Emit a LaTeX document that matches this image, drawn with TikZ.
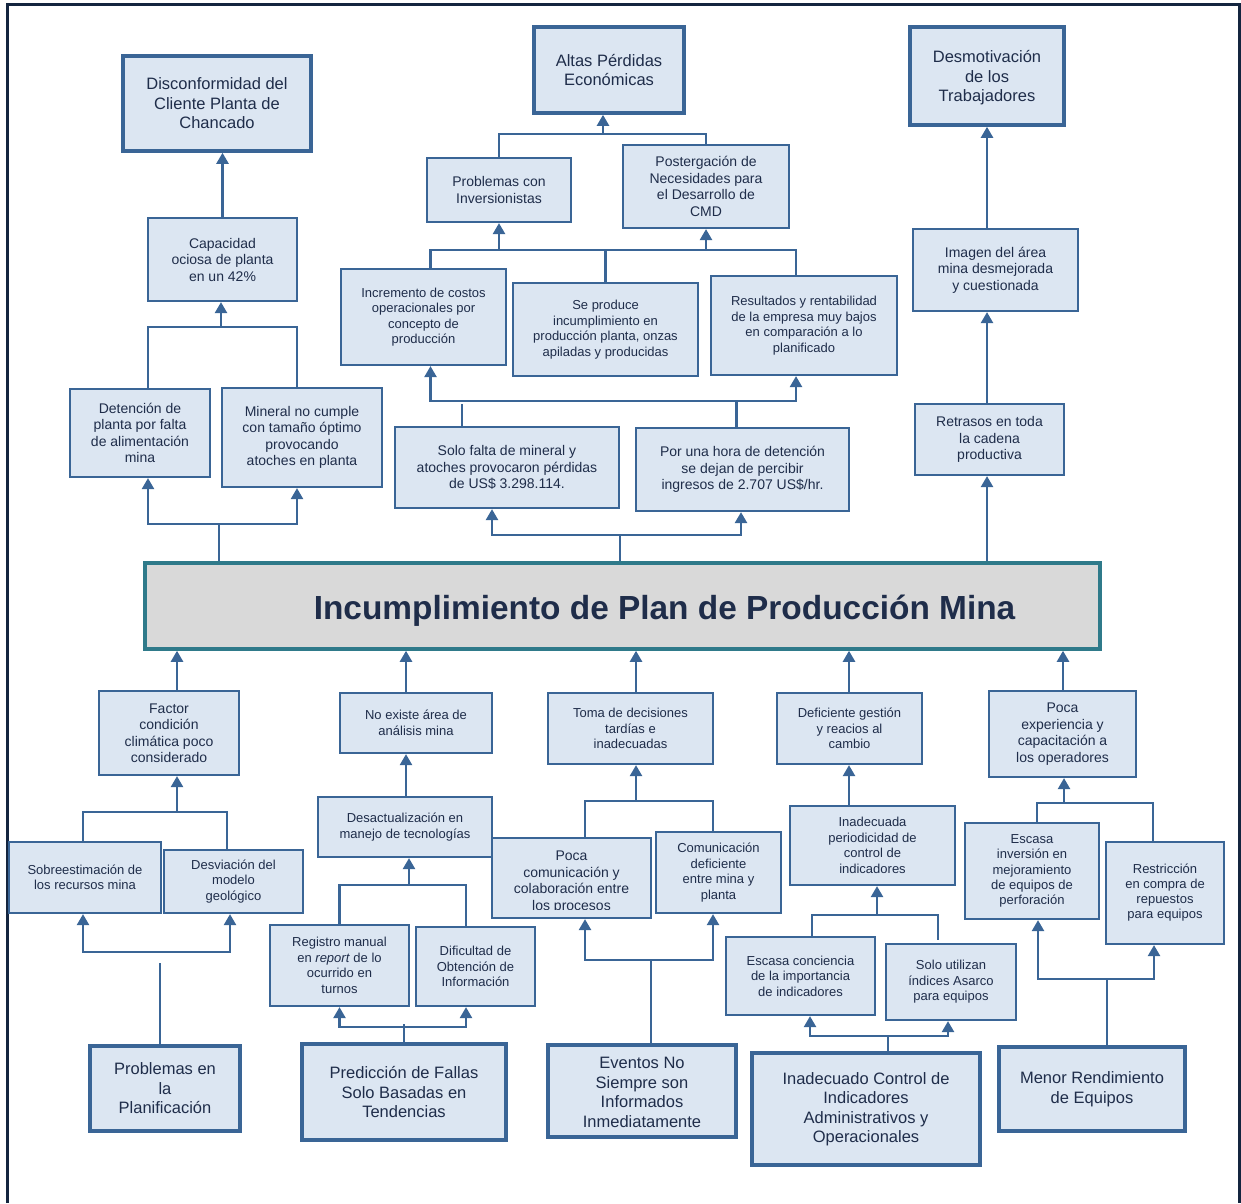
\documentclass[tikz,border=0pt]{standalone}
\usepackage{fontspec}
\setmainfont{Liberation Sans}
\usetikzlibrary{arrows.meta,calc}

\definecolor{boxfill}{HTML}{DCE6F2}
\definecolor{boxline}{HTML}{3A6596}
\definecolor{txtcol}{HTML}{1F2D4A}
\definecolor{mainfill}{HTML}{D9D9D9}
\definecolor{mainline}{HTML}{2F7A8A}
\definecolor{framecol}{HTML}{14253F}

\tikzset{
  box/.style={draw=boxline, fill=boxfill, line width=2.2pt, text=txtcol,
              align=center, inner sep=0pt},
  bigbox/.style={box, line width=3.6pt},
  fa/.style={font=\fontsize{13}{15.5}\selectfont},
  fb/.style={font=\fontsize{14}{16.5}\selectfont},
  fc/.style={font=\fontsize{16.5}{19.5}\selectfont},
  ln/.style={draw=boxline, line width=2.4pt},
  arr/.style={ln, -{Triangle[width=12pt,length=11pt]}},
}

% box from its corners: style, name, x1, y1, x2, y2, text
\newcommand{\mkbox}[7]{%
  \node[#1, minimum width={(#5)-(#3)}, minimum height={(#6)-(#4)}]
    (#2) at ({((#3)+(#5))/2},{((#4)+(#6))/2}) {#7};}
% centred lines, lowered by #1 inside the box
\newcommand{\lowlines}[2]{%
  \raisebox{-#1}[\height][\depth]{\begin{tabular}{@{}c@{}}#2\end{tabular}}}

\begin{document}
\begin{tikzpicture}[x=1pt,y=-1pt]
\useasboundingbox (0,0) rectangle (1241,1203);

% outer frame (open at the bottom)
\draw[draw=framecol, line width=3pt] (7,1203) -- (7,4) -- (1239,4) -- (1239,1203);

% ---------- central problem ----------
\node[draw=mainline, fill=mainfill, line width=3.5pt, inner sep=0pt,
      minimum width=955, minimum height=86] (main) at (622.5,606) {};
\node[font=\fontsize{33.4}{38}\selectfont\bfseries, text=txtcol, anchor=base]
      (title) at (664.5,619) {Incumplimiento de Plan de Producción Mina};

% ---------- effects: left branch ----------
\mkbox{bigbox,fc}{disc}{123}{56}{311}{151}{Disconformidad del\\Cliente Planta de\\Chancado}
\mkbox{box,fb}{cap}{148}{218}{297}{301}{Capacidad\\ociosa de planta\\en un 42\%}
\mkbox{box,fb}{det}{70}{389}{210}{477}{Detención de\\planta por falta\\de alimentación\\mina}
\mkbox{box,fb}{mic}{222}{388}{382}{487}{Mineral no cumple\\con tamaño óptimo\\provocando\\atoches en planta}

\draw[arr] (cap.north) -- (cap.north |- disc.south);
\coordinate (jA) at (221,327);
\draw[ln] ([xshift=8]det.north) |- (jA) -| ([xshift=-5]mic.north);
\draw[arr] (jA) -- (jA |- cap.south);
\coordinate (jB) at (219,524);
\draw[arr] (jB) -| ([xshift=8]det.south);
\draw[arr] (jB) -| ([xshift=-5]mic.south);
\draw[ln] (jB |- main.north) -- (jB);

% ---------- effects: middle branch ----------
\mkbox{bigbox,fc}{alt}{534}{27}{684}{113}{Altas Pérdidas\\Económicas}
\mkbox{box,fb}{inv}{427}{158}{571}{222}{Problemas con\\Inversionistas}
\mkbox{box,fb}{pos}{623}{145}{789}{228}{Postergación de\\Necesidades para\\el Desarrollo de\\CMD}
\coordinate (jC) at (603,134);
\draw[ln] (inv.north) |- (jC) -| (pos.north);
\draw[arr] (jC) -- (jC |- alt.south);

\mkbox{box,fa}{inc}{341}{269}{506}{365}{Incremento de costos\\operacionales por\\concepto de\\producción}
\mkbox{box,fa}{sep}{513}{283}{698}{376}{Se produce\\incumplimiento en\\producción planta, onzas\\apiladas y producidas}
\mkbox{box,fa}{res}{711}{276}{897}{375}{Resultados y rentabilidad\\de la empresa muy bajos\\en comparación a lo\\planificado}
\coordinate (jD) at (606,250);
\draw[ln] ([xshift=7]inc.north) |- (jD) -| ([xshift=-8]res.north);
\draw[ln] (sep.north) -- (sep.north |- jD);
\draw[arr] (jD -| inv.south) -- (inv.south);
\draw[arr] (jD -| pos.south) -- (pos.south);

\mkbox{box,fb}{sol}{395}{427}{619}{508}{Solo falta de mineral y\\atoches provocaron pérdidas\\de US\$ 3.298.114.}
\mkbox{box,fb}{hor}{636}{428}{849}{511}{Por una hora de detención\\se dejan de percibir\\ingresos de 2.707 US\$/hr.}
\coordinate (jE) at (736,401);
\draw[arr] (jE) -| ([xshift=7]inc.south);
\draw[arr] (jE) -| ([xshift=-8]res.south);
\draw[ln] ([xshift=-6]hor.north) -- ([xshift=-6]hor.north |- jE);
\coordinate (xS) at (462,401);
\draw[ln, shorten >=3pt] (xS |- sol.north) -- (xS);
\coordinate (jF) at (620,535);
\draw[arr] (jF) -| ([xshift=-15]sol.south);
\draw[arr] (jF) -| ([xshift=-1.5]hor.south);
\draw[ln] (jF |- main.north) -- (jF);

% ---------- effects: right branch ----------
\mkbox{bigbox,fc}{des}{910}{27}{1064}{125}{\lowlines{2.5pt}{Desmotivación\\de los\\Trabajadores}}
\mkbox{box,fb}{ima}{913}{229}{1078}{311}{Imagen del área\\mina desmejorada\\y cuestionada}
\mkbox{box,fb}{ret}{915}{404}{1064}{475}{Retrasos en toda\\la cadena\\productiva}
\coordinate (xR) at (987,0);
\draw[arr] (xR |- main.north) -- (xR |- ret.south);
\draw[arr] (xR |- ret.north) -- (xR |- ima.south);
\draw[arr] (xR |- ima.north) -- (xR |- des.south);

% ---------- causes: column 1 ----------
\mkbox{box,fb}{fac}{99}{691}{239}{775}{Factor\\condición\\climática poco\\considerado}
\mkbox{box,fa}{sob}{9}{842}{161}{913}{Sobreestimación de\\los recursos mina}
\mkbox{box,fa}{dvg}{164}{850}{303}{913}{Desviación del\\modelo\\geológico}
\mkbox{bigbox,fc}{pla}{90}{1046}{240}{1131}{Problemas en\\la\\Planificación}
\coordinate (x1) at (177,0);
\draw[arr] (x1 |- fac.north) -- (x1 |- main.south);
\coordinate (jH) at (177,812);
\draw[ln] ([xshift=-2]sob.north) |- (jH) -| ([xshift=-6.5]dvg.north);
\draw[arr] (jH) -- (jH |- fac.south);
\coordinate (jI) at (160,952);
\draw[arr] (jI) -| ([xshift=-2]sob.south);
\draw[arr] (jI) -| ([xshift=-3.5]dvg.south);
\coordinate (jI2) at (160,963);
\draw[ln] (jI2 |- pla.north) -- (jI2);

% ---------- causes: column 2 ----------
\mkbox{box,fa}{noe}{340}{693}{492}{753}{No existe área de\\análisis mina}
\mkbox{box,fa}{dsa}{318}{797}{492}{857}{Desactualización en\\manejo de tecnologías}
\coordinate (x2) at (406,0);
\draw[arr] (x2 |- noe.north) -- (x2 |- main.south);
\draw[arr] (x2 |- dsa.north) -- (x2 |- noe.south);
\mkbox{box,fa}{reg}{270}{925}{409}{1006}{Registro manual\\en \textit{report} de lo\\ocurrido en\\turnos}
\mkbox{box,fa}{dif}{416}{927}{535}{1006}{Dificultad de\\Obtención de\\Información}
\coordinate (jJ) at (409,885);
\draw[ln] (reg.north) |- (jJ) -| ([xshift=-9.5]dif.north);
\draw[arr] (jJ) -- (jJ |- dsa.south);
\mkbox{bigbox,fc}{pre}{302}{1044}{506}{1140}{Predicción de Fallas\\Solo Basadas en\\Tendencias}
\coordinate (jK) at (404,1027);
\draw[arr] (jK) -| (reg.south);
\draw[arr] (jK) -| ([xshift=-9.5]dif.south);
\coordinate (jK2) at (404,1024);
\draw[ln] (pre.north) -- (jK2);

% ---------- causes: column 3 ----------
\mkbox{box,fa}{tom}{548}{693}{713}{764}{Toma de decisiones\\tardías e\\inadecuadas}
\coordinate (x3) at (636,0);
\draw[arr] (x3 |- tom.north) -- (x3 |- main.south);
\mkbox{box}{pco}{492}{838}{651}{918}{}
\begin{scope}
  \clip (494,840) rectangle (649,909.5);
  \node[fb, text=txtcol, align=center, inner sep=0pt] (pcot) at (571.5,882)
    {Poca\\comunicación y\\colaboración entre\\los procesos};
\end{scope}
\mkbox{box,fa}{cmd}{656}{832}{781}{913}{Comunicación\\deficiente\\entre mina y\\planta}
\coordinate (jL) at (636,801);
\draw[ln] ([xshift=13.5]pco.north) |- (jL) -| ([xshift=-5.5]cmd.north);
\draw[arr] (jL) -- (jL |- tom.south);
\mkbox{bigbox,fc}{eve}{548}{1045}{736}{1137}{\lowlines{3pt}{Eventos No\\Siempre son\\Informados\\Inmediatamente}}
\coordinate (jM) at (651,960);
\draw[arr] (jM) -| ([xshift=13.5]pco.south);
\draw[arr] (jM) -| ([xshift=-5.5]cmd.south);
\draw[ln] (jM |- eve.north) -- (jM);

% ---------- causes: column 4 ----------
\mkbox{box,fa}{dge}{777}{693}{922}{764}{Deficiente gestión\\y reacios al\\cambio}
\coordinate (x4) at (849,0);
\draw[arr] (x4 |- dge.north) -- (x4 |- main.south);
\mkbox{box,fa}{ipc}{790}{806}{955}{885}{Inadecuada\\periodicidad de\\control de\\indicadores}
\draw[arr] (x4 |- ipc.north) -- (x4 |- dge.south);
\mkbox{box,fa}{esc}{726}{937}{875}{1015}{Escasa conciencia\\de la importancia\\de indicadores}
\mkbox{box,fa}{sut}{886}{944}{1016}{1020}{Solo utilizan\\índices Asarco\\para equipos}
\coordinate (jN) at (877,915);
\coordinate (xN) at (938,940);
\draw[ln] ([xshift=11.5]esc.north) |- (jN) -| (xN);
\draw[arr] (jN) -- (jN |- ipc.south);
\mkbox{bigbox,fc}{ico}{752}{1053}{980}{1165}{Inadecuado Control de\\Indicadores\\Administrativos y\\Operacionales}
\coordinate (jO) at (888,1036);
\draw[arr] (jO) -| ([xshift=9.5]esc.south);
\draw[arr] (jO) -| ([xshift=-3]sut.south);
\draw[ln] (jO |- ico.north) -- (jO);

% ---------- causes: column 5 ----------
\mkbox{box,fb}{pex}{989}{691}{1136}{777}{Poca\\experiencia y\\capacitación a\\los operadores}
\coordinate (x5) at (1063,0);
\draw[arr] (x5 |- pex.north) -- (x5 |- main.south);
\mkbox{box,font=\fontsize{13}{15.2}\selectfont}{ein}{965}{823}{1099}{919}{Escasa\\inversión en\\mejoramiento\\de equipos de\\perforación}
\mkbox{box,font=\fontsize{13}{15}\selectfont}{rcr}{1106}{842}{1224}{944}{Restricción\\en compra de\\repuestos\\para equipos}
\coordinate (jP) at (1064,803);
\draw[ln] ([xshift=5]ein.north) |- (jP) -| ([xshift=-12]rcr.north);
\draw[arr] (jP) -- (jP |- pex.south);
\mkbox{bigbox,fc}{men}{999}{1047}{1185}{1131}{Menor Rendimiento\\de Equipos}
\coordinate (jQ) at (1107,979);
\draw[arr] (jQ) -| ([xshift=6]ein.south);
\draw[arr] (jQ) -| ([xshift=-11]rcr.south);
\draw[ln] (jQ |- men.north) -- (jQ);

\end{tikzpicture}
\end{document}
